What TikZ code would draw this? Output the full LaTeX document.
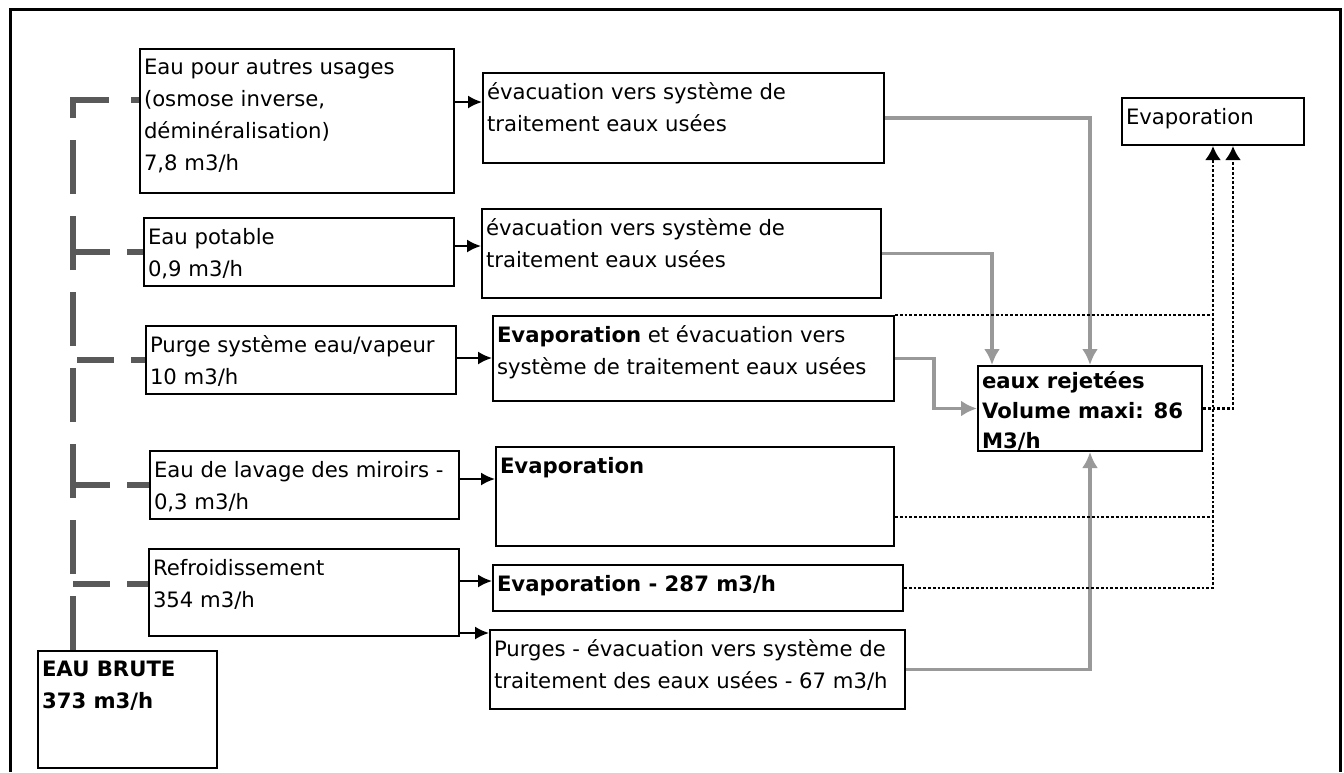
\documentclass[tikz,border=0pt]{standalone}
\usepackage{fontspec}
\setmainfont{DejaVu Sans}
\usetikzlibrary{arrows.meta}
\def\u{.5pt}
\newcommand{\bt}[3]{\parbox[t][#2pt][t]{#1pt}{\raggedright #3}}
\tikzstyle{b}=[draw=black,line width=1pt,inner xsep=2pt,inner ysep=5pt,anchor=north west,font=\fontsize{10.6}{16}\selectfont]
\tikzstyle{arr}=[line width=1pt,-{Latex[length=7pt,width=6.5pt]}]
\tikzstyle{gr}=[draw=black!40,line width=1.6pt,-{Latex[length=8pt,width=8pt]}]
\tikzstyle{dotl}=[line width=1.4pt,dash pattern=on 1.4pt off 1pt]
\tikzstyle{dot}=[dotl,-{Latex[length=7pt,width=8pt]}]
\tikzstyle{trunk}=[draw=black!65,line width=3pt,dash pattern=on 27pt off 11pt]
\tikzstyle{br}=[draw=black!65,line width=3pt,dash pattern=on 18.5pt off 8.5pt]

\begin{document}
\begin{tikzpicture}[x=\u,y=-\u]
			\useasboundingbox (0,0) rectangle (1344,772);
			\draw[line width=1.5pt] (10,772) -- (10,9) -- (1340,9) -- (1340,772);
			\node[b](a1) at (139,48){\bt{153}{62}{Eau pour autres usages\\(osmose inverse,\\déminéralisation)\\7,8 m3/h}};
			\node[b](a2) at (143,217){\bt{151}{24}{Eau potable\\0,9 m3/h}};
			\node[b](a3) at (145,325){\bt{151}{24}{Purge système eau/vapeur\\10 m3/h}};
			\node[b](a4) at (149,450){\bt{150.5}{24}{Eau de lavage des miroirs -\\0,3 m3/h}};
			\node[b](a5) at (148,548){\bt{151}{33.5}{Refroidissement\\354 m3/h}};
			\node[b](b1) at (482,72){\bt{196.5}{35}{évacuation vers système de\\traitement eaux usées}};
			\node[b](b2) at (481,208){\bt{195.5}{34.5}{évacuation vers système de\\traitement eaux usées}};
			\node[b](b3) at (492,315){\bt{196.5}{32.5}{\textbf{Evaporation} et évacuation vers\\système de traitement eaux usées}};
			\node[b](b4) at (495,446){\bt{195}{39.5}{\textbf{Evaporation}}};
			\node[b](b5) at (492,564){\bt{201}{13}{\textbf{Evaporation - 287 m3/h}}};
			\node[b](b6) at (489,629){\bt{203.5}{29.5}{Purges - évacuation vers système de\\traitement des eaux usées - 67 m3/h}};
			\node[b](eb) at (37,650){\bt{85.5}{48.5}{\textbf{EAU BRUTE}\\\textbf{373 m3/h}}};
			\node[b,inner ysep=3pt,font=\fontsize{10.6}{15}\selectfont](er) at (977,365){\bt{108}{36.5}{\textbf{eaux rejetées}\\\textbf{Volume maxi: 86}\\\textbf{M3/h}}};
			\node[b](ev) at (1121,97){\bt{87}{13.5}{Evaporation}};
			\coordinate(t) at ([xshift=18pt]eb.north west);
			\draw[trunk](t) |- (a1.west |- 0,100);
			\draw[br](t |- a2.west) -- (a2.west);
			\draw[br]([xshift=2pt]t |- a3.west) -- (a3.west);
			\draw[br](t |- a4.west) -- (a4.west);
			\draw[br](t |- 0,584) -- (a5.west |- 0,584);
			\draw[arr](a1.east |- 0,102) -- (b1.west |- 0,102);
			\draw[arr](a2.east |- 0,246) -- (b2.west |- 0,246);
			\draw[arr](a3.east |- 0,358) -- (b3.west |- 0,358);
			\draw[arr](a4.east |- 0,479) -- (b4.west |- 0,479);
			\draw[arr](a5.east |- 0,581) -- (b5.west |- 0,581);
			\draw[arr](a5.east |- 0,633) -- (b6.west |- 0,633);
			\draw[gr](b1.east) -| (er.north);
			\draw[gr](b2.east) -| ([xshift=7.5pt]er.north west);
			\draw[gr](b3.east) -- ++(39,0) |- (er.west);
			\draw[gr](b6.east) -| (er.south);
			\draw[dotl](b3.north east) -- (ev.south |- b3.north east);
			\draw[dotl](b4.east |- 0,517) -- (ev.south |- 0,517);
			\draw[dot](b5.east) -| (ev.south);
			\draw[dot](er.east) -| ([xshift=10pt]ev.south);
		\end{tikzpicture}
\end{document}
